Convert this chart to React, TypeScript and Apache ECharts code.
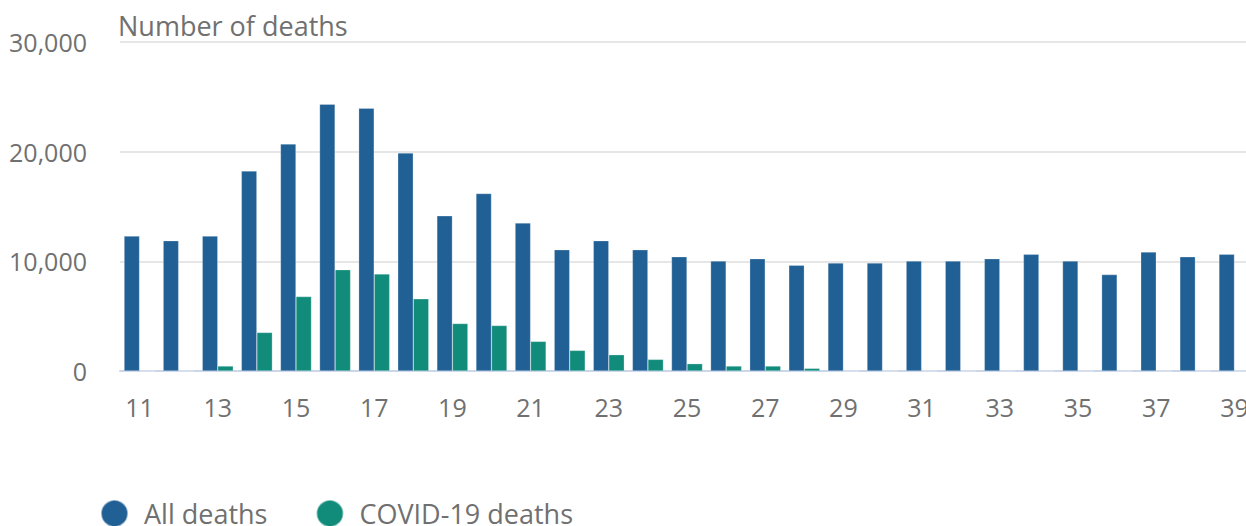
import React, { useEffect, useRef } from "react";
import * as echarts from "echarts";

const weeks = ["11","12","13","14","15","16","17","18","19","20","21","22","23","24","25","26","27","28","29","30","31","32","33","34","35","36","37","38","39"];
const allDeaths = [12300,11880,12300,18240,20700,24330,23970,19880,14150,16180,13500,11060,11880,11060,10420,10030,10240,9640,9850,9850,10030,10030,10240,10640,10030,8790,10850,10420,10640];
const covidDeaths = [0,0,455,3515,6790,9240,8850,6580,4330,4150,2700,1880,1485,1060,667,455,455,242,0,0,0,0,0,0,0,0,0,0,0];
const yTicks = [0, 10000, 20000, 30000];

const FONT = "'Open Sans', sans-serif";
const GREY = "#707070";

export default function App() {
  const ref = useRef<HTMLDivElement>(null);
  useEffect(() => {
    if (!ref.current) return;
    const chart = echarts.init(ref.current, null, { renderer: "svg" });
    chart.setOption({
      animation: false,
      title: {
        text: "Number of deaths",
        left: 113,
        top: 7,
        textStyle: { fontFamily: FONT, fontSize: 27, fontWeight: "normal", color: GREY },
      },
      legend: {
        left: 95,
        top: 494,
        icon: "circle",
        itemWidth: 27,
        itemHeight: 27,
        itemGap: 48,
        textStyle: { fontFamily: FONT, fontSize: 27, color: GREY, padding: [0, 0, 0, 11] },
        data: ["All deaths", "COVID-19 deaths"],
      },
      grid: { left: 120, width: 1134, top: 42, bottom: 155, containLabel: false },
      xAxis: {
        type: "category",
        data: weeks,
        axisLine: { lineStyle: { color: "#ccd6eb", width: 2 } },
        axisTick: { alignWithLabel: true, interval: 1, length: 20, lineStyle: { color: "#ccd6eb", width: 2 } },
        axisLabel: { interval: 1, margin: 23, fontFamily: FONT, fontSize: 25, color: GREY },
      },
      yAxis: {
        type: "value",
        min: yTicks[0],
        max: yTicks[yTicks.length - 1],
        interval: yTicks[1] - yTicks[0],
        axisLine: { show: false },
        axisTick: { show: false },
        splitLine: { lineStyle: { color: "#e6e6e6", width: 2 } },
        axisLabel: {
          margin: 33,
          fontFamily: FONT,
          fontSize: 25,
          color: GREY,
          formatter: (v: number) => v.toLocaleString("en-GB"),
        },
      },
      series: [
        {
          name: "All deaths",
          type: "bar",
          data: allDeaths,
          barWidth: 15.5,
          barGap: "0%",
          itemStyle: { color: "#206095", borderColor: "rgba(255,255,255,0.5)", borderWidth: 0.5 },
        },
        {
          name: "COVID-19 deaths",
          type: "bar",
          data: covidDeaths,
          barWidth: 15.5,
          itemStyle: { color: "#118c7b", borderColor: "rgba(255,255,255,0.5)", borderWidth: 0.5 },
        },
      ],
    });
    return () => chart.dispose();
  }, []);
  return (
    <div style={{ width: 1246, height: 526, position: "absolute", left: 0, top: 0, overflow: "hidden" }}>
      <div ref={ref} style={{ width: 1262, height: 526 }} />
    </div>
  );
}
